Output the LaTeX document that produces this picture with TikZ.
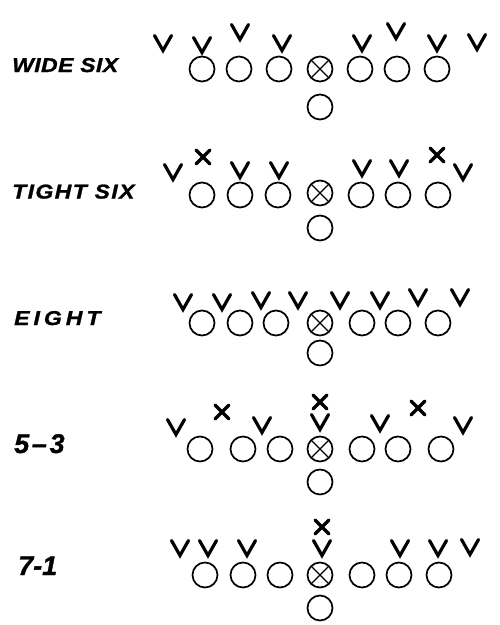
\documentclass[tikz,border=0pt]{standalone}
\usepackage{fontspec}
\newfontfamily\labfont[FakeStretch=1.15,FakeBold=1.2]{Liberation Sans}
\newfontfamily\numfont[FakeBold=1.2]{Liberation Sans}
\tikzset{
  player/.style={circle, draw, line width=1.7pt, minimum size=25pt, inner sep=0pt, outer sep=0pt},
  crossline/.style={line width=1.3pt},
  markstroke/.style={line width=3.2pt, line cap=round, line join=miter},
  vmk/.pic={\draw[markstroke] (-8.5,-7.5) -- (0,7.5) -- (8.5,-7.5);},
  xmk/.pic={\draw[markstroke] (-7,-7) -- (7,7) (-7,7) -- (7,-7);},
  lab/.style={anchor=base west, inner sep=0pt, font=\labfont\bfseries\itshape\fontsize{20}{20}\selectfont},
  numlab/.style={anchor=base west, inner sep=0pt, font=\numfont\bfseries\itshape\fontsize{27}{27}\selectfont},
}
\newcommand\formrow[5]{% #1 prefix, #2 y, #3 x list (7 values), #4 center y, #5 back y
  \foreach \xx [count=\i] in {#3} {
    \ifnum\i=4
      \node[player] (#1\i) at (\xx,#4) {};
      \draw[crossline] (#1\i.north east) -- (#1\i.south west) (#1\i.north west) -- (#1\i.south east);
    \else
      \node[player] (#1\i) at (\xx,#2) {};
    \fi
  }
  \node[player] (#1b) at (320,#5) {};
}
\begin{document}
\begin{tikzpicture}[x=1pt,y=-1pt]
\useasboundingbox (0,0) rectangle (500,625);
% WIDE SIX
\node[lab] (l1) at (12,72) {\addfontfeature{LetterSpace=2}WIDE SIX};
\formrow{a}{69}{202,239,279,320,360,397,437}{69}{107}
\foreach \p in {(163,43),(202,45),(240,32),(282,43),(362,43),(396,31),(437,43),(477,42)} \pic at \p {vmk};
% TIGHT SIX
\node[lab] (l2) at (12,198.5) {\addfontfeature{LetterSpace=7}TIGHT SIX};
\formrow{b}{195}{202,240,278,320,361,398,438}{193}{228}
\foreach \p in {(173,172),(240,170),(279,170),(362,168),(399,168),(463,172)} \pic at \p {vmk};
\foreach \p in {(203,157),(437,155)} \pic at \p {xmk};
% EIGHT
\node[lab] (l3) at (14,325) {\addfontfeature{LetterSpace=20}EIGHT};
\formrow{c}{323}{202,240,276,320,362,398,438}{323}{353}
\foreach \p in {(183,302),(222,302),(261,300),(298,300),(340,300),(380,300),(418,297),(460,297)} \pic at \p {vmk};
% 5-3
\node[numlab] (l4) at (14,453) {\addfontfeature{LetterSpace=10}5–3};
\formrow{d}{449}{200,243,280,320,362,398,441}{449}{482}
\foreach \p in {(176,427),(262,425),(320,422),(380,423),(463,425)} \pic at \p {vmk};
\foreach \p in {(222,412),(320,402),(418,408)} \pic at \p {xmk};
% 7-1
\node[numlab] (l5) at (18,575) {7-1};
\formrow{e}{575}{205,243,280,320,362,399,439}{575}{608}
\foreach \p in {(180,548),(208,548),(247,548),(322,548),(400,548),(438,548),(470,547)} \pic at \p {vmk};
\pic at (322,527) {xmk};
\end{tikzpicture}
\end{document}
